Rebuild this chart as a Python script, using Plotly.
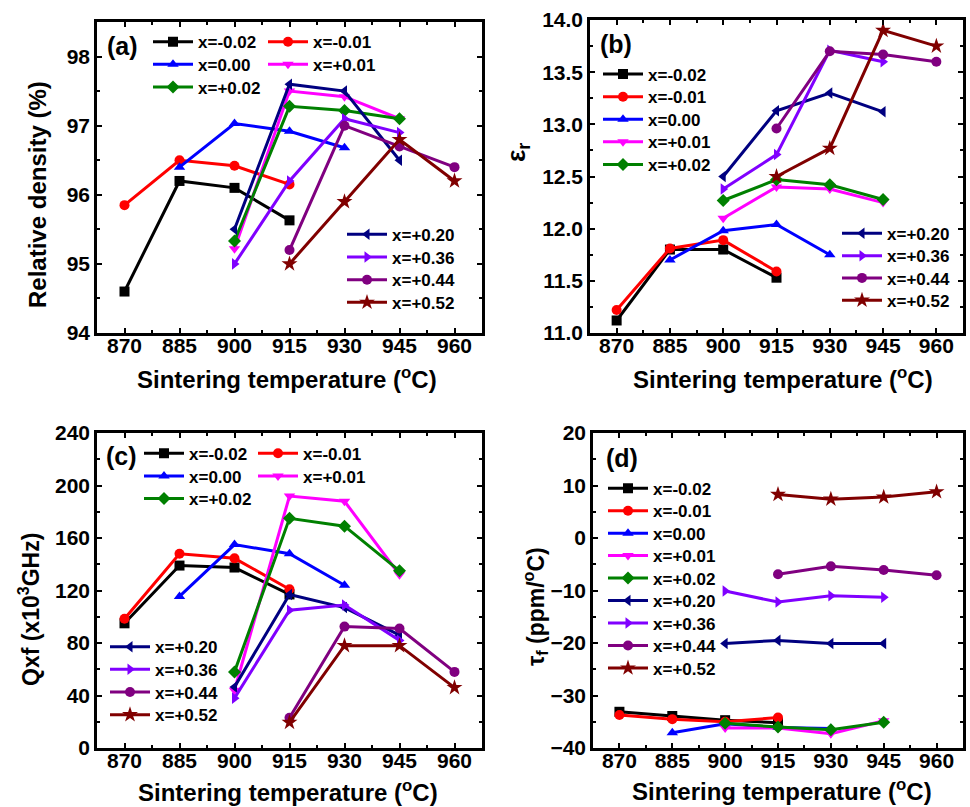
import plotly.graph_objects as go

# ---------------- data ----------------
NAMES = ["x=-0.02", "x=-0.01", "x=0.00", "x=+0.01", "x=+0.02",
         "x=+0.20", "x=+0.36", "x=+0.44", "x=+0.52"]
COLORS = ["#000000", "#FF0000", "#0000FF", "#FF00FF", "#008000",
          "#000080", "#8000FF", "#800080", "#800000"]
SYMBOLS = ["square", "circle", "triangle-up", "triangle-down", "diamond",
           "triangle-left", "triangle-right", "circle", "star"]

# sintering temperatures measured for each composition (deg C)
TEMPS = [
    [870, 885, 900, 915],
    [870, 885, 900, 915],
    [885, 900, 915, 930],
    [900, 915, 930, 945],
    [900, 915, 930, 945],
    [900, 915, 930, 945],
    [900, 915, 930, 945],
    [915, 930, 945, 960],
    [915, 930, 945, 960],
]

# (a) relative density (%)
DENSITY = [
    [94.6, 96.2, 96.1, 95.63],
    [95.85, 96.5, 96.42, 96.15],
    [96.4, 97.03, 96.92, 96.68],
    [95.22, 97.5, 97.42, 97.1],
    [95.33, 97.28, 97.22, 97.1],
    [95.5, 97.6, 97.5, 96.5],
    [95.0, 96.2, 97.1, 96.9],
    [95.2, 97.0, 96.7, 96.4],
    [95.0, 95.9, 96.8, 96.2],
]

# (b) permittivity
EPSILON = [
    [11.12, 11.80, 11.80, 11.53],
    [11.22, 11.81, 11.89, 11.59],
    [11.70, 11.98, 12.04, 11.75],
    [12.10, 12.40, 12.38, 12.25],
    [12.27, 12.47, 12.42, 12.28],
    [12.50, 13.13, 13.30, 13.12],
    [12.38, 12.71, 13.71, 13.60],
    [12.96, 13.70, 13.67, 13.60],
    [12.50, 12.77, 13.90, 13.75],
]

# (c) Qxf (x10^3 GHz)
QF = [
    [95, 139, 137.5, 117],
    [98.5, 148, 144.5, 121],
    [115.5, 155, 148, 124],
    [44, 192, 188, 132],
    [58, 175, 169, 135],
    [46.5, 117, 107, 86],
    [38, 105, 109, 82],
    [23, 92.5, 91, 58],
    [19.5, 78, 78, 46],
]

# (d) tau_f (ppm/degC)
TAUF = [
    [-33.1, -33.9, -34.7, -35.2],
    [-33.7, -34.5, -35.0, -34.2],
    [-37.1, -35.4, -36.1, -36.3],
    [-36.2, -36.2, -37.3, -34.8],
    [-35.3, -36.0, -36.5, -35.1],
    [-20.1, -19.5, -20.1, -20.1],
    [-10.1, -12.2, -11.0, -11.3],
    [-6.9, -5.4, -6.1, -7.1],
    [8.3, 7.4, 7.8, 8.8],
]

X_TICKS = [870, 885, 900, 915, 930, 945, 960]

# ---------------- layout helpers ----------------
W, H = 970, 807
FONT = "Liberation Sans"


def fx(px):
    return px / W


def fy(py):
    return 1 - py / H


# panel plot areas in pixels: (left, right, top, bottom)
PANELS = {
    "a": (97, 482, 22, 333),
    "b": (590, 963, 20, 333),
    "c": (97, 482, 433, 748),
    "d": (593, 963, 433, 748),
}

# legend entry placement per panel: (line start x, row center y) for each series
LEG_POS = {
    "a": [(153, 41.7), (268, 41.7), (153, 64.2), (268, 64.2), (153, 87.0),
          (347, 234.3), (347, 257.0), (347, 279.7), (347, 302.3)],
    "b": [(603, 74.0), (603, 96.7), (603, 119.3), (603, 141.8), (603, 164.5),
          (842, 233.3), (842, 255.7), (842, 277.9), (842, 300.2)],
    "c": [(144, 453.3), (258, 453.3), (144, 476.0), (258, 476.0), (144, 498.5),
          (110, 646.7), (110, 669.3), (110, 692.0), (110, 714.7)],
    "d": [(608, 488.3), (608, 510.8), (608, 533.2), (608, 555.6), (608, 578.1),
          (608, 600.6), (608, 623.0), (608, 645.5), (608, 668.0)],
}

LEG_FONT = 17
ITEM_H = LEG_FONT * 1.3 + 3

fig = go.Figure()
layout = {}

panel_data = [("a", DENSITY, ""), ("b", EPSILON, "2"), ("c", QF, "3"), ("d", TAUF, "4")]

leg_idx = 0
for key, values, ax in panel_data:
    for i, name in enumerate(NAMES):
        leg_idx += 1
        lname = "legend" if leg_idx == 1 else f"legend{leg_idx}"
        ms = 12 if SYMBOLS[i] == "star" else 10
        fig.add_trace(go.Scatter(
            x=TEMPS[i], y=values[i], name=name, mode="lines+markers",
            line=dict(color=COLORS[i], width=3),
            marker=dict(symbol=SYMBOLS[i], size=ms, color=COLORS[i],
                        line=dict(width=0)),
            xaxis="x" + ax, yaxis="y" + ax, legend=lname,
        ))
        lx, ly = LEG_POS[key][i]
        layout[lname] = dict(
            x=fx(lx - 5), y=fy(ly - (ITEM_H / 2 + 5)), xanchor="left", yanchor="top",
            xref="paper", yref="paper",
            bgcolor="rgba(0,0,0,0)", borderwidth=0, itemwidth=40,
            font=dict(family=FONT, size=LEG_FONT, color="black", weight="bold"),
        )

axis_common = dict(
    showline=True, linewidth=2.5, linecolor="black", mirror="ticks",
    ticks="inside", ticklen=5, tickwidth=2, tickcolor="black",
    showgrid=False, zeroline=False, automargin=False,
    tickfont=dict(family=FONT, size=21, color="black", weight="bold"),
)

Y_SPECS = {
    "a": dict(range=[94, 98.5], tick0=94, dtick=1, minor=0.5, fmt=""),
    "b": dict(range=[11, 14], tick0=11, dtick=0.5, minor=0.25, fmt=".1f"),
    "c": dict(range=[0, 240], tick0=0, dtick=40, minor=20, fmt=""),
    "d": dict(range=[-40, 20], tick0=-40, dtick=10, minor=5, fmt=""),
}

for key, _, ax in panel_data:
    l, r, t, b = PANELS[key]
    xs = "xaxis" + ax
    ys = "yaxis" + ax
    layout[xs] = dict(
        axis_common, domain=[fx(l), fx(r)], anchor="y" + ax,
        range=[862.5, 967.5], tickmode="array", tickvals=X_TICKS,
        ticklabelstandoff=-8,
        minor=dict(ticks="inside", ticklen=3, tickwidth=1.5, tickcolor="black",
                   tickmode="linear", tick0=862.5, dtick=7.5),
    )
    ys_spec = Y_SPECS[key]
    layout[ys] = dict(
        axis_common, domain=[fy(b), fy(t)], anchor="x" + ax,
        range=ys_spec["range"], tickmode="linear", tick0=ys_spec["tick0"],
        dtick=ys_spec["dtick"], tickformat=ys_spec["fmt"],
        minor=dict(ticks="inside", ticklen=3, tickwidth=1.5, tickcolor="black",
                   tickmode="linear", tick0=ys_spec["tick0"], dtick=ys_spec["minor"]),
    )

XTITLE = "Sintering temperature (<sup>o</sup>C)"
annotations = []


def text_ann(text, x, y, size, angle=0):
    return dict(text=text, x=fx(x), y=fy(y), xref="paper", yref="paper",
                xanchor="center", yanchor="middle", showarrow=False, textangle=angle,
                font=dict(family=FONT, size=size, color="black", weight="bold"))


annotations += [
    text_ann(XTITLE, 287, 378, 24),
    text_ann(XTITLE, 783, 378, 24),
    text_ann(XTITLE, 288, 791, 24),
    text_ann(XTITLE, 782, 790, 24),
    text_ann("Relative density (%)", 37, 195, 24, -90),
    text_ann("ε<sub>r</sub>", 517, 153, 26, -90),
    text_ann("Qxf (x10<sup>3</sup>GHz)", 29, 610, 23, -90),
    text_ann("τ<sub>f</sub> (ppm/<sup>o</sup>C)", 535, 607, 23, -90),
    text_ann("(a)", 122, 46, 25),
    text_ann("(b)", 616, 44, 25),
    text_ann("(c)", 121, 456, 25),
    text_ann("(d)", 622, 458, 25),
]

fig.update_layout(
    width=W, height=H, autosize=False,
    margin=dict(l=0, r=0, t=0, b=0, pad=0, autoexpand=False),
    paper_bgcolor="white", plot_bgcolor="white",
    showlegend=True, annotations=annotations,
    font=dict(family=FONT, color="black"),
    **layout,
)

fig.write_html(
    "out.html",
    config={"displayModeBar": False},
    post_script="document.body.style.margin='0px';",
)
